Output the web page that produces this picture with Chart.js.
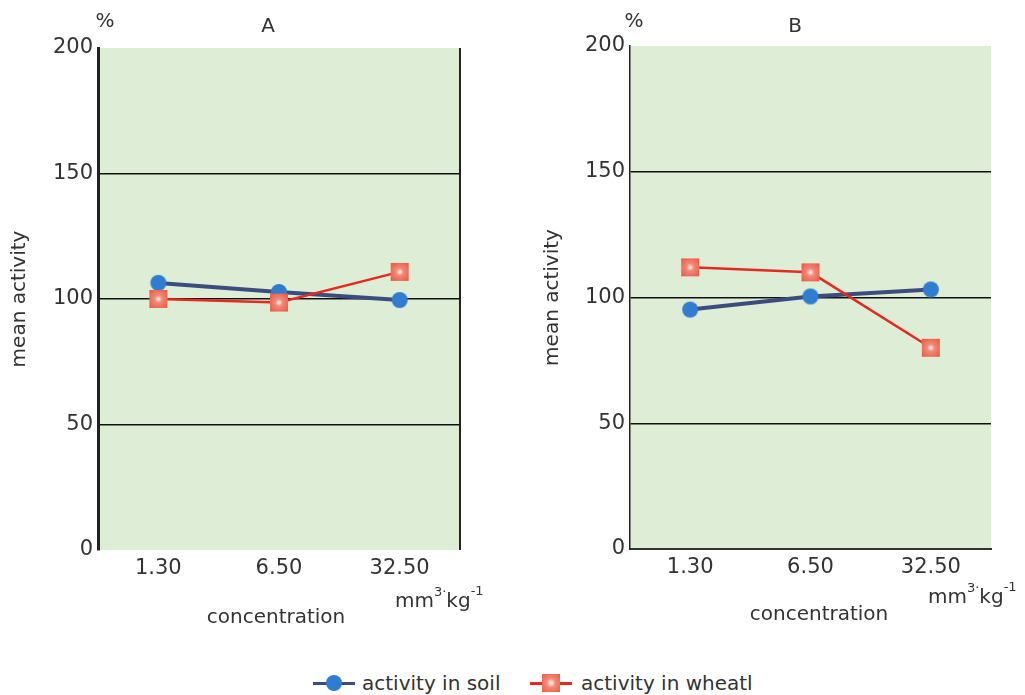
<!DOCTYPE html>
<html>
<head>
<meta charset="utf-8">
<script src="https://cdn.jsdelivr.net/npm/chart.js@4.4.1/dist/chart.umd.min.js"></script>
<style>
  body { margin: 0; background: #fff; width: 1025px; height: 695px; position: relative; overflow: hidden; font-family: "DejaVu Sans", sans-serif; }
  #graficoA { position: absolute; left: 0; top: 0; }
  #graficoB { position: absolute; left: 512px; top: 0; }
  #legenda { position: absolute; top: 671px; left: 0; width: 1025px; height: 24px; }
  .item { position: absolute; top: 0; height: 24px; font-size: 20px; color: #333; line-height: 24px; }
  .linha { position: absolute; top: 11px; width: 42px; height: 3px; }
  .txt { position: absolute; top: 0; white-space: nowrap; }
</style>
</head>
<body>
<canvas id="graficoA" width="512" height="650"></canvas>
<canvas id="graficoB" width="513" height="650"></canvas>
<div id="legenda">
  <div class="item" style="left:313px">
    <div class="linha" style="left:0;background:#3d4c7e"></div>
    <div style="position:absolute;left:13px;top:4px;width:16px;height:16px;border-radius:50%;background:#2f7cd0"></div>
    <div class="txt" style="left:49px">activity in soil</div>
  </div>
  <div class="item" style="left:530px">
    <div class="linha" style="left:0;background:#e52a22"></div>
    <div style="position:absolute;left:12px;top:3px;width:18px;height:18px;background:radial-gradient(circle,#fff 0%,#f28a78 35%,#eb5a45 100%)"></div>
    <div class="txt" style="left:51px">activity in wheatl</div>
  </div>
</div>
<script>
// dados
var categorias = ['1.30', '6.50', '32.50'];
var soloA = [106.4, 102.8, 99.6];
var trigoA = [100, 98.6, 110.8];
var soloB = [95.2, 100.4, 103.2];
var trigoB = [112, 110, 80];
var marcasY = [0, 50, 100, 150, 200];

// marcadores
function marcaCirculo() {
    var c = document.createElement('canvas');
    c.width = 18; c.height = 18;
    var g = c.getContext('2d');
    g.fillStyle = '#2f7cd0';
    g.beginPath();
    g.arc(9, 9, 8, 0, Math.PI * 2);
    g.fill();
    return c;
}
function marcaQuadrado() {
    var c = document.createElement('canvas');
    c.width = 20; c.height = 20;
    var g = c.getContext('2d');
    var gr = g.createRadialGradient(10, 10, 0, 10, 10, 12);
    gr.addColorStop(0, '#ffffff');
    gr.addColorStop(0.3, '#f28a78');
    gr.addColorStop(1, '#eb5a45');
    g.fillStyle = gr;
    g.fillRect(1, 1, 18, 18);
    return c;
}
var circulo = marcaCirculo();
var quadrado = marcaQuadrado();

var fonte = { family: '"DejaVu Sans", sans-serif', size: 20 };

var extras = {
    id: 'extras',
    beforeDraw: function (chart, args, opts) {
        var a = chart.chartArea, g = chart.ctx;
        g.save();
        g.fillStyle = '#deedd5';
        g.fillRect(a.left, a.top, a.right - a.left, a.bottom - a.top);
        g.restore();
    },
    afterDraw: function (chart, args, opts) {
        var a = chart.chartArea, g = chart.ctx;
        g.save();
        if (opts.bordaDireita) {
            g.strokeStyle = '#222';
            g.lineWidth = 2;
            g.beginPath();
            g.moveTo(a.right, a.top);
            g.lineTo(a.right, a.bottom);
            g.stroke();
        }
        g.fillStyle = '#333';
        g.font = '20px "DejaVu Sans", sans-serif';
        g.textAlign = 'center';
        g.textBaseline = 'middle';
        g.fillText('%', opts.pct, 22);
        g.fillText(opts.titulo, opts.tituloX, 27);
        g.fillText('concentration', opts.concX, opts.concY);
        // unidade mm3·kg-1
        g.textAlign = 'left';
        var x = opts.uniX, y = opts.uniY;
        g.font = '20px "DejaVu Sans", sans-serif';
        g.fillText('mm', x, y);
        x += g.measureText('mm').width;
        g.font = '13px "DejaVu Sans", sans-serif';
        g.fillText('3·', x, y - 9);
        x += g.measureText('3·').width;
        g.font = '20px "DejaVu Sans", sans-serif';
        g.fillText('kg', x, y);
        x += g.measureText('kg').width;
        g.font = '13px "DejaVu Sans", sans-serif';
        g.fillText('-1', x, y - 10);
        g.restore();
    }
};

function criaGrafico(id, solo, trigo, cfg) {
    var ctx = document.getElementById(id).getContext('2d');
    return new Chart(ctx, {
        type: 'line',
        data: {
            labels: categorias,
            datasets: [
                {
                    label: 'activity in soil',
                    data: solo,
                    borderColor: '#3d4c7e',
                    borderWidth: 4,
                    pointStyle: circulo,
                    order: 2
                },
                {
                    label: 'activity in wheatl',
                    data: trigo,
                    borderColor: '#e52a22',
                    borderWidth: 2.5,
                    pointStyle: quadrado,
                    order: 1
                }
            ]
        },
        options: {
            responsive: false,
            animation: false,
            devicePixelRatio: 1,
            layout: { padding: { left: cfg.padEsq, top: cfg.padTopo, right: cfg.padDir, bottom: 0 } },
            plugins: {
                legend: { display: false },
                tooltip: { enabled: false },
                extras: cfg.extras
            },
            scales: {
                x: {
                    offset: true,
                    grid: { display: false, drawTicks: false },
                    border: { display: cfg.bordaBaixo, color: '#333', width: 2 },
                    ticks: { font: { family: fonte.family, size: 21 }, color: '#333', padding: 6 },
                    afterFit: function (s) { s.height = cfg.altX; }
                },
                y: {
                    min: 0,
                    max: 200,
                    afterBuildTicks: function (s) { s.ticks = marcasY.map(function (v) { return { value: v }; }); },
                    grid: {
                        drawTicks: false,
                        lineWidth: 1.5,
                        color: function (c) { return (c.tick && c.tick.value > 0 && c.tick.value < 200) ? '#111' : 'rgba(0,0,0,0)'; }
                    },
                    border: { display: true, color: '#222', width: cfg.bordaEsq },
                    ticks: { font: { family: fonte.family, size: 21 }, color: '#333', padding: 5 },
                    title: { display: true, text: 'mean activity', font: fonte, color: '#333', padding: { top: 8, bottom: 0 } },
                    afterFit: function (s) { s.width = cfg.largY; }
                }
            }
        },
        plugins: [extras]
    });
}

var graficoA = criaGrafico('graficoA', soloA, trigoA, {
    padEsq: 0, padDir: 52, padTopo: 48, altX: 100, largY: 98, bordaBaixo: false, bordaEsq: 3,
    extras: { bordaDireita: true, pct: 105, titulo: 'A', tituloX: 268, concX: 276, concY: 618, uniX: 395, uniY: 602 }
});

var graficoB = criaGrafico('graficoB', soloB, trigoB, {
    padEsq: 21, padDir: 34, padTopo: 46, altX: 101, largY: 97, bordaBaixo: true, bordaEsq: 1.5,
    extras: { bordaDireita: false, pct: 122, titulo: 'B', tituloX: 283, concX: 307, concY: 615, uniX: 416, uniY: 598 }
});
</script>
</body>
</html>
